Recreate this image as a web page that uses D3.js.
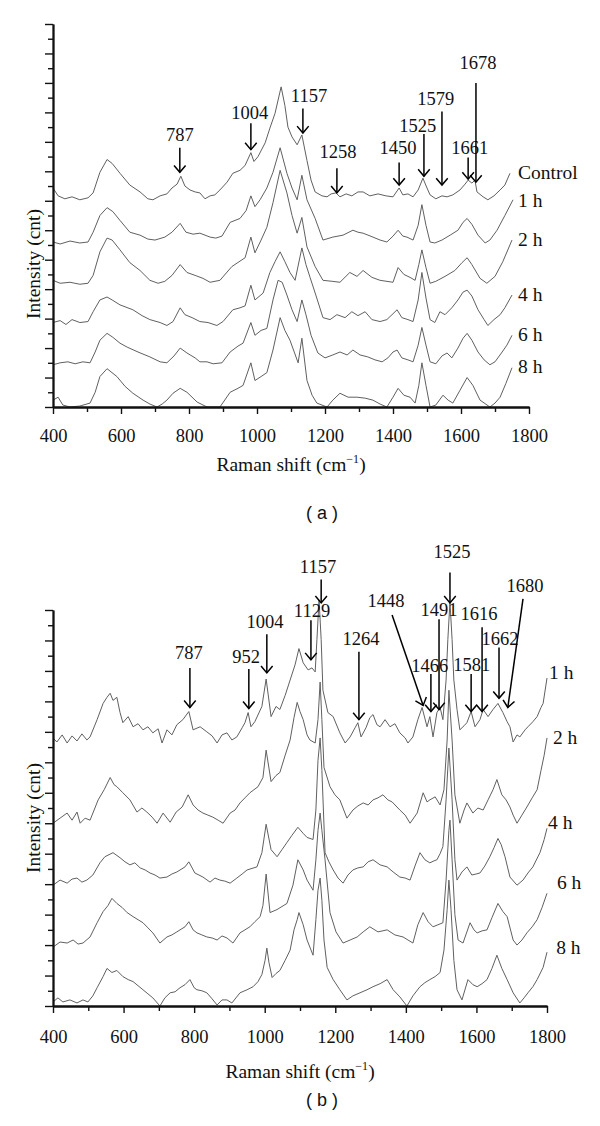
<!DOCTYPE html>
<html><head><meta charset="utf-8">
<script src="https://cdn.jsdelivr.net/npm/d3@7"></script>
<style>body{margin:0;background:#fff}svg{display:block}</style>
</head><body>
<svg id="c" width="600" height="1126"></svg>
<script>
// ---------- tick labels ----------
const xTickLabels = [400, 600, 800, 1000, 1200, 1400, 1600, 1800];
const xMinorTicks = [500, 700, 900, 1100, 1300, 1500, 1700];
const yMajorTicks = [0,30,60,90,120,150,180,210,240,270,300,330,360,390];
const yMinorTicks = [15,45,75,105,135,165,195,225,255,285,315,345,375];

// ---------- panel (a) series: [Raman shift, intensity] ----------
const seriesNamesA = ["Control", "1 h", "2 h", "4 h", "6 h", "8 h"];
const a_control = [[400,223],[415,215],[435,212],[456,214],[479,211],[503,213],[518,218],[538,239],[559,252],[574,248],[597,238],[626,226],[656,219],[679,212],[694,211],[715,215],[735,217],[750,223],[765,227],[776,235],[788,225],[803,221],[818,219],[832,218],[847,212],[862,215],[876,216],[891,221],[912,229],[929,238],[950,241],[965,246],[982,259],[991,250],[1003,255],[1024,269],[1038,284],[1053,299],[1071,326],[1082,307],[1091,285],[1103,275],[1118,267],[1132,277],[1147,251],[1159,231],[1171,219],[1191,215],[1206,214],[1218,217],[1232,218],[1244,214],[1262,217],[1279,215],[1297,219],[1312,219],[1332,215],[1356,217],[1379,215],[1400,214],[1418,223],[1429,216],[1444,217],[1459,214],[1474,221],[1488,233],[1500,223],[1509,216],[1526,212],[1544,215],[1559,214],[1576,216],[1597,221],[1612,227],[1621,231],[1632,228],[1641,231],[1647,219],[1665,214],[1679,211],[1697,215],[1715,221],[1729,226],[1744,238]];
const a_1h = [[400,168],[421,166],[450,169],[479,167],[503,168],[518,178],[538,195],[559,203],[576,199],[597,190],[626,178],[656,175],[679,171],[700,170],[729,173],[750,178],[774,187],[791,178],[812,176],[832,177],[862,173],[879,172],[897,174],[921,188],[950,192],[968,200],[982,215],[994,204],[1009,211],[1029,223],[1047,239],[1068,264],[1088,238],[1103,223],[1118,211],[1132,236],[1147,211],[1171,192],[1194,170],[1223,173],[1253,175],[1282,180],[1297,178],[1312,177],[1341,173],[1362,170],[1382,168],[1400,174],[1415,180],[1429,174],[1441,173],[1459,170],[1474,185],[1485,206],[1497,185],[1509,168],[1523,167],[1544,170],[1568,175],[1591,180],[1606,188],[1618,192],[1632,186],[1650,175],[1671,167],[1685,170],[1706,180],[1729,195],[1753,211]];
const a_2h = [[400,129],[421,126],[450,127],[479,125],[503,126],[518,134],[538,158],[559,172],[574,170],[597,160],[626,147],[656,139],[685,129],[709,126],[729,128],[750,134],[774,145],[794,137],[818,134],[841,131],[862,127],[891,129],[926,143],[965,152],[982,173],[994,157],[1012,170],[1029,183],[1047,208],[1068,241],[1088,218],[1103,195],[1118,177],[1132,193],[1147,163],[1171,143],[1194,129],[1221,128],[1244,127],[1273,137],[1294,133],[1312,139],[1338,132],[1362,129],[1400,127],[1415,142],[1432,135],[1450,132],[1465,129],[1476,145],[1485,160],[1497,142],[1509,126],[1526,128],[1553,133],[1582,139],[1603,147],[1618,152],[1632,145],[1656,131],[1676,126],[1700,133],[1723,148],[1750,170]];
const a_4h = [[400,86],[421,88],[438,84],[456,89],[479,86],[503,87],[518,97],[538,109],[559,112],[574,109],[597,104],[635,99],[662,93],[685,89],[715,86],[735,83],[753,87],[774,101],[788,94],[809,91],[832,87],[856,86],[882,83],[900,87],[929,99],[950,101],[965,103],[982,124],[994,109],[1018,116],[1038,137],[1053,148],[1068,158],[1082,148],[1097,137],[1112,129],[1132,162],[1144,145],[1156,132],[1173,114],[1194,91],[1215,89],[1235,94],[1259,91],[1279,97],[1297,93],[1318,97],[1338,89],[1362,87],[1382,89],[1400,95],[1412,99],[1426,91],[1444,89],[1459,87],[1474,109],[1485,137],[1497,111],[1509,89],[1523,86],[1538,97],[1553,94],[1573,101],[1591,109],[1606,117],[1618,119],[1632,113],[1650,99],[1668,89],[1679,83],[1697,89],[1715,94],[1729,101],[1750,114]];
const a_6h = [[400,43],[421,45],[444,46],[465,44],[488,46],[509,45],[524,56],[538,68],[559,75],[576,71],[597,65],[618,61],[650,56],[685,51],[715,46],[735,45],[756,52],[774,60],[794,55],[818,50],[832,46],[853,46],[871,44],[897,45],[921,56],[944,62],[959,65],[982,86],[994,73],[1012,78],[1029,80],[1047,109],[1062,129],[1074,127],[1088,114],[1103,99],[1118,87],[1132,109],[1144,94],[1159,73],[1179,55],[1200,50],[1223,53],[1244,56],[1265,53],[1282,58],[1303,53],[1326,51],[1347,48],[1368,46],[1385,50],[1400,56],[1412,58],[1426,50],[1444,48],[1459,46],[1474,63],[1485,81],[1497,63],[1509,46],[1526,44],[1544,52],[1559,55],[1573,50],[1591,60],[1606,70],[1618,75],[1632,68],[1650,56],[1668,48],[1685,43],[1700,46],[1721,56],[1735,63],[1750,73]];
const a_8h = [[400,7],[415,10],[429,2],[450,0],[479,1],[509,4],[524,15],[538,31],[559,39],[588,31],[612,21],[635,14],[665,7],[685,3],[706,0],[721,3],[735,7],[753,14],[774,19],[794,15],[824,5],[853,0],[891,0],[921,15],[944,19],[959,22],[982,45],[994,27],[1012,31],[1029,35],[1047,58],[1068,91],[1082,78],[1097,68],[1121,45],[1132,70],[1147,27],[1162,12],[1176,4],[1206,0],[1223,7],[1244,14],[1268,10],[1294,10],[1318,9],[1341,7],[1362,3],[1382,0],[1400,10],[1415,19],[1432,12],[1450,10],[1465,4],[1476,22],[1485,45],[1497,22],[1509,0],[1526,2],[1547,12],[1562,7],[1576,4],[1597,17],[1618,30],[1635,22],[1656,7],[1685,0],[1700,4],[1715,10],[1732,24],[1750,40]];
// series label anchors (Raman shift, intensity)
const labelPosA = [[1768,239],[1768,210],[1768,171],[1768,115],[1768,74],[1768,41]];

// ---------- panel (b) series ----------
const seriesNamesB = ["1 h", "2 h", "4 h", "6 h", "8 h"];
const b_1h = [[400,264],[411,260],[426,267],[440,259],[454,266],[468,261],[482,268],[496,262],[505,265],[525,282],[542,298],[553,304],[562,308],[570,301],[581,304],[590,289],[598,279],[613,285],[627,275],[641,278],[655,272],[669,275],[683,269],[698,273],[709,259],[723,272],[737,267],[751,277],[768,282],[785,290],[797,272],[817,275],[836,270],[851,266],[865,259],[879,267],[893,269],[907,262],[921,265],[936,274],[944,279],[953,289],[961,275],[972,280],[992,295],[1004,322],[1018,285],[1032,295],[1043,292],[1058,306],[1072,321],[1086,336],[1097,352],[1109,338],[1123,331],[1134,333],[1143,329],[1148,361],[1154,400],[1160,361],[1165,311],[1179,289],[1194,285],[1213,269],[1228,259],[1242,265],[1256,274],[1264,279],[1273,265],[1287,274],[1298,284],[1307,287],[1318,277],[1327,275],[1341,282],[1355,275],[1369,278],[1383,269],[1398,264],[1406,259],[1420,265],[1434,282],[1446,294],[1460,275],[1468,285],[1477,265],[1488,289],[1497,294],[1505,282],[1514,321],[1519,361],[1525,398],[1531,361],[1536,321],[1545,292],[1553,272],[1565,276],[1573,279],[1585,290],[1596,275],[1610,282],[1619,292],[1633,285],[1647,292],[1661,298],[1675,289],[1687,280],[1695,275],[1704,260],[1715,267],[1723,265],[1738,272],[1746,275],[1760,280],[1772,285],[1783,294],[1789,298],[1800,323]];
const b_2h = [[400,180],[420,185],[440,190],[454,183],[468,191],[477,180],[491,185],[505,183],[528,203],[545,213],[562,225],[573,218],[581,216],[598,210],[618,203],[638,191],[652,195],[666,191],[681,186],[695,180],[712,190],[732,181],[749,191],[766,196],[783,208],[797,198],[811,193],[825,190],[839,188],[853,186],[868,183],[882,180],[902,190],[916,193],[930,200],[944,205],[958,210],[981,216],[995,225],[1004,252],[1018,221],[1032,227],[1043,230],[1058,247],[1072,262],[1083,284],[1092,299],[1100,290],[1109,282],[1120,267],[1128,262],[1143,259],[1151,282],[1157,319],[1162,282],[1168,235],[1185,216],[1199,208],[1213,203],[1233,185],[1250,193],[1264,197],[1279,200],[1293,198],[1307,203],[1321,205],[1335,208],[1349,203],[1361,201],[1383,193],[1398,188],[1412,180],[1432,190],[1449,210],[1460,201],[1468,203],[1483,206],[1497,198],[1508,213],[1517,262],[1522,311],[1531,262],[1539,208],[1553,180],[1565,193],[1573,200],[1590,190],[1604,195],[1619,193],[1633,203],[1647,213],[1658,223],[1672,208],[1684,203],[1695,196],[1704,188],[1715,180],[1729,188],[1743,196],[1758,205],[1772,213],[1783,232],[1792,247],[1800,264]];
const b_4h = [[400,119],[420,124],[440,121],[454,125],[468,126],[482,122],[496,124],[513,129],[533,141],[547,147],[570,151],[590,146],[604,142],[618,139],[632,141],[647,136],[661,134],[675,131],[689,129],[703,126],[723,127],[737,130],[751,132],[774,137],[785,142],[802,131],[825,127],[845,122],[859,126],[873,124],[887,123],[902,121],[921,126],[936,130],[950,134],[978,137],[992,151],[1004,179],[1018,154],[1035,147],[1049,154],[1063,161],[1077,168],[1094,176],[1109,170],[1120,166],[1137,164],[1145,193],[1151,242],[1157,264],[1162,232],[1171,151],[1182,142],[1194,134],[1208,126],[1222,121],[1236,129],[1250,134],[1264,136],[1279,137],[1293,142],[1307,144],[1327,139],[1347,137],[1364,132],[1383,127],[1398,126],[1412,124],[1426,138],[1440,151],[1454,144],[1468,141],[1480,143],[1488,144],[1497,150],[1505,157],[1514,203],[1522,254],[1531,203],[1539,144],[1545,124],[1559,132],[1573,137],[1587,129],[1599,130],[1610,131],[1624,138],[1638,147],[1650,156],[1661,165],[1670,159],[1681,147],[1695,127],[1715,119],[1732,124],[1746,131],[1760,137],[1780,151],[1792,164],[1800,175]];
const b_6h = [[400,58],[420,63],[440,62],[457,65],[471,61],[485,62],[505,68],[525,82],[542,93],[556,99],[567,106],[581,101],[596,97],[610,92],[627,88],[641,85],[655,82],[669,77],[683,72],[703,62],[723,68],[737,70],[751,73],[774,78],[785,83],[797,75],[808,72],[822,70],[836,68],[851,67],[865,65],[879,69],[893,67],[910,62],[930,72],[944,75],[958,78],[972,83],[987,88],[995,99],[1004,130],[1015,92],[1035,95],[1049,98],[1063,101],[1080,119],[1094,144],[1109,134],[1120,124],[1137,114],[1145,144],[1151,173],[1157,190],[1162,173],[1171,144],[1185,92],[1202,73],[1222,62],[1242,65],[1262,68],[1279,73],[1298,78],[1321,73],[1347,75],[1369,70],[1392,68],[1406,65],[1420,62],[1434,80],[1449,92],[1463,83],[1477,78],[1491,80],[1505,82],[1514,124],[1522,173],[1525,183],[1531,144],[1539,90],[1548,65],[1562,62],[1582,82],[1593,75],[1602,72],[1616,74],[1630,75],[1644,87],[1661,101],[1675,93],[1687,88],[1704,65],[1715,60],[1729,65],[1743,72],[1758,78],[1772,85],[1786,97],[1800,111]];
const b_8h = [[400,4],[414,8],[428,4],[448,6],[468,3],[485,6],[499,4],[513,10],[525,18],[542,29],[553,37],[567,33],[581,35],[598,29],[613,26],[627,24],[641,20],[655,16],[669,12],[683,8],[703,0],[717,8],[732,13],[746,14],[760,18],[774,21],[788,26],[800,18],[808,16],[822,15],[836,13],[851,7],[865,1],[879,6],[893,6],[907,3],[930,13],[950,16],[967,19],[981,24],[992,31],[1001,45],[1006,57],[1012,43],[1021,28],[1032,32],[1043,35],[1058,45],[1072,55],[1083,75],[1092,85],[1097,92],[1109,80],[1120,65],[1137,50],[1145,85],[1151,114],[1157,126],[1162,104],[1168,65],[1177,38],[1194,26],[1213,16],[1233,6],[1250,10],[1270,13],[1290,16],[1307,19],[1327,22],[1347,26],[1364,16],[1383,9],[1403,0],[1420,10],[1440,19],[1454,23],[1468,26],[1483,29],[1497,33],[1508,55],[1517,95],[1522,124],[1528,95],[1536,45],[1545,16],[1559,6],[1576,26],[1590,21],[1602,19],[1616,22],[1630,26],[1644,37],[1658,50],[1672,37],[1687,26],[1704,13],[1723,3],[1735,8],[1746,13],[1760,19],[1772,26],[1789,38],[1800,53]];
const labelPosB = [[1806,328],[1817,264],[1803,181],[1828,122],[1826,58]];

// ---------- peak annotations: label centre + arrow tail -> head (data units) ----------
const peaksA = [
  {t:"787",  lx:773,  ly:277, x0:773,  y0:264, x1:773,  y1:239},
  {t:"1004", lx:979,  ly:299, x0:982,  y0:289, x1:982,  y1:262},
  {t:"1157", lx:1153, ly:317, x0:1135, y0:304, x1:1135, y1:279},
  {t:"1258", lx:1238, ly:260, x0:1235, y0:243, x1:1235, y1:218},
  {t:"1450", lx:1415, ly:264, x0:1418, y0:249, x1:1418, y1:226},
  {t:"1525", lx:1473, ly:286, x0:1491, y0:278, x1:1491, y1:235},
  {t:"1579", lx:1526, ly:314, x0:1544, y0:301, x1:1544, y1:226},
  {t:"1661", lx:1626, ly:264, x0:1621, y0:254, x1:1621, y1:232},
  {t:"1678", lx:1650, ly:350, x0:1644, y0:330, x1:1644, y1:229}
];
const peaksB = [
  {t:"787",  lx:785,  ly:348, x0:788,  y0:333, x1:788,  y1:294},
  {t:"952",  lx:947,  ly:344, x0:955,  y0:332, x1:955,  y1:293},
  {t:"1004", lx:1001, ly:378, x0:1006, y0:366, x1:1006, y1:328},
  {t:"1129", lx:1134, ly:389, x0:1131, y0:380, x1:1131, y1:341},
  {t:"1157", lx:1151, ly:432, x0:1160, y0:420, x1:1160, y1:397},
  {t:"1264", lx:1273, ly:361, x0:1267, y0:349, x1:1267, y1:282},
  {t:"1448", lx:1344, ly:399, x0:1361, y0:385, x1:1449, y1:296},
  {t:"1466", lx:1468, ly:335, x0:1471, y0:327, x1:1471, y1:290},
  {t:"1491", lx:1494, ly:390, x0:1494, y0:381, x1:1494, y1:292},
  {t:"1525", lx:1531, ly:447, x0:1525, y0:427, x1:1525, y1:397},
  {t:"1581", lx:1587, ly:336, x0:1585, y0:327, x1:1585, y1:290},
  {t:"1616", lx:1607, ly:386, x0:1616, y0:373, x1:1616, y1:290},
  {t:"1662", lx:1667, ly:361, x0:1664, y0:353, x1:1664, y1:303},
  {t:"1680", lx:1738, ly:414, x0:1732, y0:401, x1:1689, y1:294}
];

// ---------- drawing ----------
const svg = d3.select("#c");
svg.append("rect").attr("width",600).attr("height",1126).attr("fill","#fff");
const SERIF = "'Liberation Serif','Times New Roman',serif";

function panel(o) {
  const g = svg.append("g");
  const x = d3.scaleLinear().domain([400,1800]).range([o.left, o.right]);
  const y = d3.scaleLinear().domain([0,390]).range([o.bottom, o.top]);

  const line = d3.line().x(d => x(d[0])).y(d => y(d[1]));
  o.series.forEach(s => {
    g.append("path").datum(s).attr("d", line)
      .attr("fill","none").attr("stroke","#606060").attr("stroke-width",1)
      .attr("stroke-linejoin","round");
  });

  // x axis
  const gxMinor = g.append("g").attr("transform",`translate(0,${o.bottom})`)
    .call(d3.axisBottom(x).tickValues(xMinorTicks).tickFormat("").tickSize(5).tickSizeOuter(0));
  const gx = g.append("g").attr("transform",`translate(0,${o.bottom})`)
    .call(d3.axisBottom(x).tickValues(xTickLabels).tickFormat(d3.format("d"))
      .tickSize(7).tickSizeOuter(0).tickPadding(o.tickPad));
  // y axis
  const gyMinor = g.append("g").attr("transform",`translate(${o.left},0)`)
    .call(d3.axisLeft(y).tickValues(yMinorTicks).tickFormat("").tickSize(5).tickSizeOuter(0));
  const gy = g.append("g").attr("transform",`translate(${o.left},0)`)
    .call(d3.axisLeft(y).tickValues(yMajorTicks).tickFormat("").tickSize(8).tickSizeOuter(0));
  [gxMinor,gx,gyMinor,gy].forEach(a => {
    a.selectAll("path.domain").attr("stroke","#111").attr("stroke-width",1.8);
    a.selectAll(".tick line").attr("stroke","#111").attr("stroke-width",1.4);
  });
  gx.selectAll(".tick text").attr("font-family",SERIF).attr("font-size",18.5).attr("fill","#111");

  // axis titles
  const xt = g.append("text").attr("x",(o.left+o.right)/2).attr("y",o.bottom+o.titleOff)
    .attr("text-anchor","middle").attr("font-family",SERIF).attr("font-size",19.5).attr("fill","#111");
  xt.append("tspan").text("Raman shift (cm");
  xt.append("tspan").attr("font-size",12).attr("dy",-8).text("\u22121");
  xt.append("tspan").attr("dy",8).text(")");
  g.append("text").attr("transform",`translate(33,${o.ytitleY}) rotate(-90)`)
    .attr("text-anchor","middle").attr("dominant-baseline","central")
    .attr("font-family",SERIF).attr("font-size",19.5).attr("fill","#111").text("Intensity (cnt)");

  // series labels
  o.names.forEach((n,i) => {
    g.append("text").attr("x",x(o.labelPos[i][0])).attr("y",y(o.labelPos[i][1]))
      .attr("dominant-baseline","central").attr("font-family",SERIF).attr("font-size",19.5)
      .attr("fill","#111").text(n);
  });

  // peak annotations
  o.peaks.forEach(p => {
    const X0 = x(p.x0), Y0 = y(p.y0), X1 = x(p.x1), Y1 = y(p.y1);
    g.append("line").attr("x1",X0).attr("y1",Y0).attr("x2",X1).attr("y2",Y1)
      .attr("stroke","#000").attr("stroke-width",1.5);
    const L = Math.hypot(X1-X0, Y1-Y0), bx = (X0-X1)/L, by = (Y0-Y1)/L;
    const th = 40*Math.PI/180, al = 9;
    const r = s => [X1 + al*(bx*Math.cos(s*th) - by*Math.sin(s*th)), Y1 + al*(bx*Math.sin(s*th) + by*Math.cos(s*th))];
    const a1 = r(1), a2 = r(-1);
    g.append("path").attr("d",`M${a1[0]},${a1[1]}L${X1},${Y1}L${a2[0]},${a2[1]}`)
      .attr("fill","none").attr("stroke","#000").attr("stroke-width",1.5);
    g.append("text").attr("x",x(p.lx)).attr("y",y(p.ly)).attr("text-anchor","middle")
      .attr("dominant-baseline","central").attr("font-family",SERIF).attr("font-size",18.5)
      .attr("fill","#111").text(p.t);
  });

  // panel tag
  g.append("text").attr("x",322).attr("y",o.tagY).attr("text-anchor","middle")
    .attr("dominant-baseline","central").attr("font-family","'Liberation Sans',Arial,sans-serif")
    .attr("font-size",18).attr("fill","#111").text(o.tag);
}

panel({left:53, right:529, top:24, bottom:407, tickPad:15, titleOff:64, ytitleY:264, tagY:513,
  series:[a_control,a_1h,a_2h,a_4h,a_6h,a_8h], names:seriesNamesA, labelPos:labelPosA, peaks:peaksA, tag:"( a )"});
panel({left:53, right:547, top:610, bottom:1006, tickPad:17, titleOff:72, ytitleY:818, tagY:1100,
  series:[b_1h,b_2h,b_4h,b_6h,b_8h], names:seriesNamesB, labelPos:labelPosB, peaks:peaksB, tag:"( b )"});
</script>
</body></html>
